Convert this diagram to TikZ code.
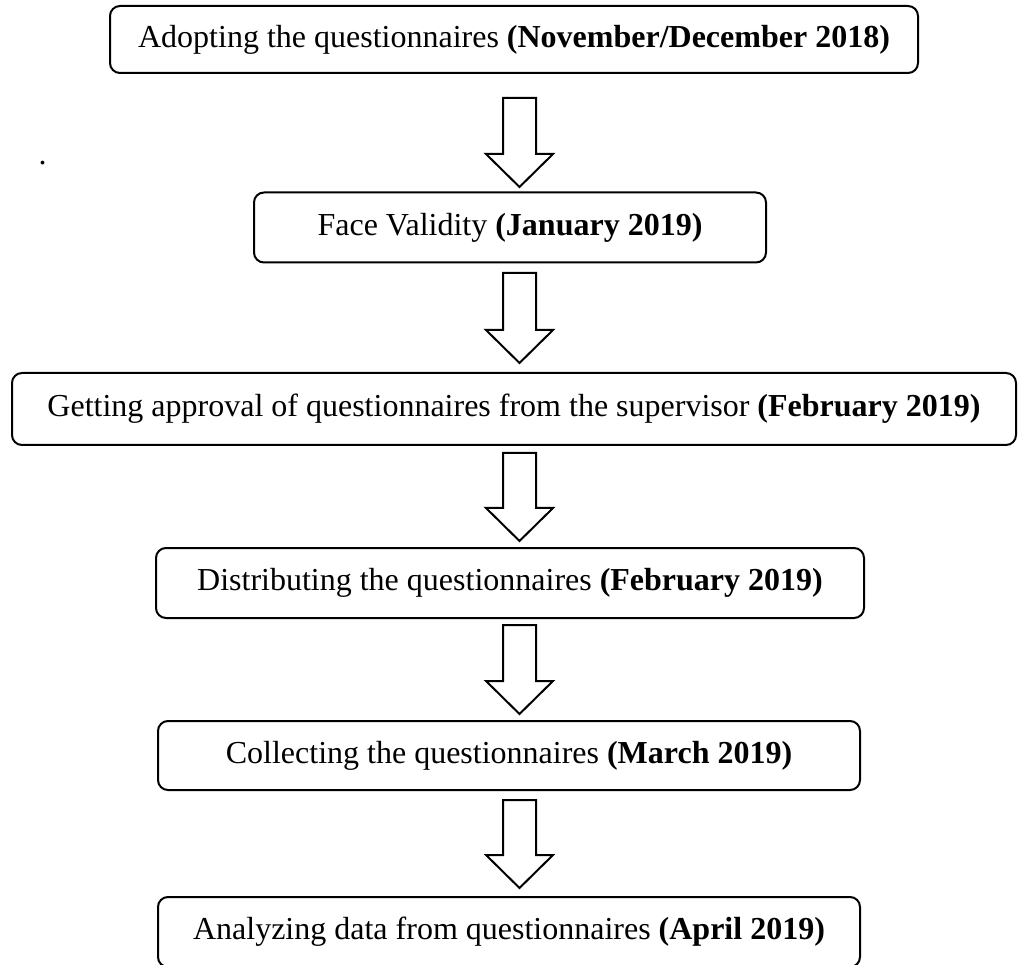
\documentclass[tikz,border=0pt]{standalone}
\usepackage{fontspec}
\setmainfont{Liberation Serif}
\usetikzlibrary{calc}
\tikzset{
  stepbox/.style={draw=black, line width=2pt, rounded corners=10pt, inner sep=0pt,
    font=\fontsize{32}{38}\selectfont, align=center},
  blockarrow/.style={draw=black, line width=2pt, fill=white, line join=miter}
}
\newcommand\myblockarrow[2]{%
  \draw[blockarrow] ($(#1)+(-16.5,0)$) -- ($(#1)+(16.5,0)$) -- ($(#2)+(16.5,-33)$)
    -- ($(#2)+(33.5,-33)$) -- (#2) -- ($(#2)+(-33.5,-33)$) -- ($(#2)+(-16.5,-33)$) -- cycle;}
\begin{document}
\begin{tikzpicture}[x=1pt,y=-1pt]
\clip (0,0) rectangle (1018,965);
\fill[white] (0,0) rectangle (1018,965);
\node[stepbox, minimum width=808pt, minimum height=67pt] (b1) at (514,39.5)
  {Adopting the questionnaires \textbf{(November/December 2018)}};
\node[stepbox, minimum width=512pt, minimum height=70pt] (b2) at (510,227.5)
  {Face Validity \textbf{(January 2019)}};
\node[stepbox, minimum width=1004pt, minimum height=72pt] (b3) at (514,409)
  {Getting approval of questionnaires from the supervisor \textbf{(February 2019)}};
\node[stepbox, minimum width=708pt, minimum height=70pt] (b4) at (510,583)
  {Distributing the questionnaires \textbf{(February 2019)}};
\node[stepbox, minimum width=702pt, minimum height=69pt] (b5) at (509,755.5)
  {Collecting the questionnaires \textbf{(March 2019)}};
\node[stepbox, minimum width=702pt, minimum height=70pt] (b6) at (509,932)
  {Analyzing data from questionnaires \textbf{(April 2019)}};
\node[inner sep=0pt, anchor=base, font=\fontsize{32}{38}\selectfont] (dot) at (42.5,165) {.};
\coordinate (a1s) at (519.5,98);  \coordinate (a1t) at (519.5,187);
\coordinate (a2s) at (519.5,273); \coordinate (a2t) at (519.5,363);
\coordinate (a3s) at (519.5,453); \coordinate (a3t) at (519.5,541);
\coordinate (a4s) at (519.5,625); \coordinate (a4t) at (519.5,714);
\coordinate (a5s) at (519.5,800); \coordinate (a5t) at (519.5,888);
\myblockarrow{a1s}{a1t}
\myblockarrow{a2s}{a2t}
\myblockarrow{a3s}{a3t}
\myblockarrow{a4s}{a4t}
\myblockarrow{a5s}{a5t}
\end{tikzpicture}
\end{document}
